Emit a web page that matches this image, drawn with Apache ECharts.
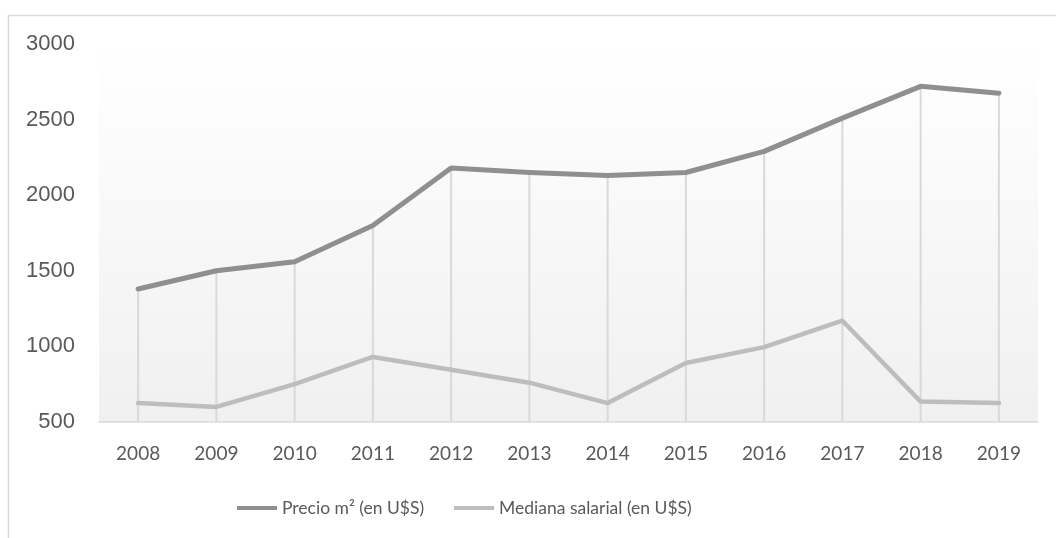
<!DOCTYPE html>
<html>
<head>
<meta charset="utf-8">
<script src="https://cdn.jsdelivr.net/npm/echarts@6/dist/echarts.min.js"></script>
<style>
  html, body { margin: 0; padding: 0; background: #ffffff; }
  #chart { width: 1056px; height: 538px; }
</style>
</head>
<body>
<div id="chart"></div>
<script>
// Years on the category axis
const years = ['2008', '2009', '2010', '2011', '2012', '2013', '2014', '2015', '2016', '2017', '2018', '2019'];
// Price per square metre, US dollars
const precioM2 = [1380, 1500, 1560, 1800, 2180, 2150, 2130, 2150, 2290, 2510, 2720, 2675];
// Median salary, US dollars
const medianaSalarial = [625, 600, 750, 930, 845, 760, 625, 890, 995, 1170, 635, 625];
// Value axis ticks
const yTicks = { min: 500, max: 3000, step: 500 };

const narrowFont = "'Lato', sans-serif";
const wideFont = "'Liberation Sans', Arial, sans-serif";
const textColor = '#595959';

const chart = echarts.init(document.getElementById('chart'), null, { renderer: 'canvas' });

chart.setOption({
  animation: false,
  backgroundColor: '#ffffff',
  graphic: [{
    type: 'rect',
    z: -10,
    silent: true,
    shape: { x: 8.5, y: 15.5, width: 1200, height: 700 },
    style: { fill: null, stroke: '#d9d9d9', lineWidth: 1.5 }
  }],
  grid: {
    left: 99,
    right: 18,
    top: 44,
    bottom: 116,
    show: true,
    borderWidth: 0,
    backgroundColor: new echarts.graphic.LinearGradient(0, 0, 0, 1, [
      { offset: 0, color: '#ffffff' },
      { offset: 1, color: '#f0f0f0' }
    ])
  },
  legend: {
    data: ['Precio m² (en U$S)', 'Mediana salarial (en U$S)'],
    bottom: 16,
    left: 232,
    icon: 'rect',
    itemWidth: 40,
    itemHeight: 4,
    itemGap: 30,
    textStyle: { color: textColor, fontSize: 17.5, fontFamily: narrowFont }
  },
  xAxis: {
    type: 'category',
    data: years,
    boundaryGap: true,
    axisLine: { show: true, lineStyle: { color: '#d9d9d9', width: 1.5 } },
    axisTick: { show: false },
    axisLabel: { color: textColor, fontSize: 19, fontFamily: narrowFont, margin: 22 },
    splitLine: { show: false }
  },
  yAxis: {
    type: 'value',
    min: yTicks.min,
    max: yTicks.max,
    interval: yTicks.step,
    axisLine: { show: false },
    axisTick: { show: false },
    splitLine: { show: false },
    axisLabel: {
      color: textColor,
      fontSize: 22,
      fontFamily: wideFont,
      margin: 24,
      formatter: (v) => String(v)
    }
  },
  series: [
    {
      // drop lines from each price point down to the category axis
      name: 'drop',
      type: 'bar',
      data: precioM2,
      barWidth: 2,
      silent: true,
      z: 1,
      itemStyle: { color: '#d9d9d9' }
    },
    {
      name: 'Precio m² (en U$S)',
      type: 'line',
      data: precioM2,
      symbol: 'none',
      z: 3,
      lineStyle: { color: '#8f8f8f', width: 5, cap: 'round', join: 'round' },
      itemStyle: { color: '#8f8f8f' }
    },
    {
      name: 'Mediana salarial (en U$S)',
      type: 'line',
      data: medianaSalarial,
      symbol: 'none',
      z: 3,
      lineStyle: { color: '#bdbdbd', width: 4.5, cap: 'round', join: 'round' },
      itemStyle: { color: '#bdbdbd' }
    }
  ]
});
</script>
</body>
</html>
